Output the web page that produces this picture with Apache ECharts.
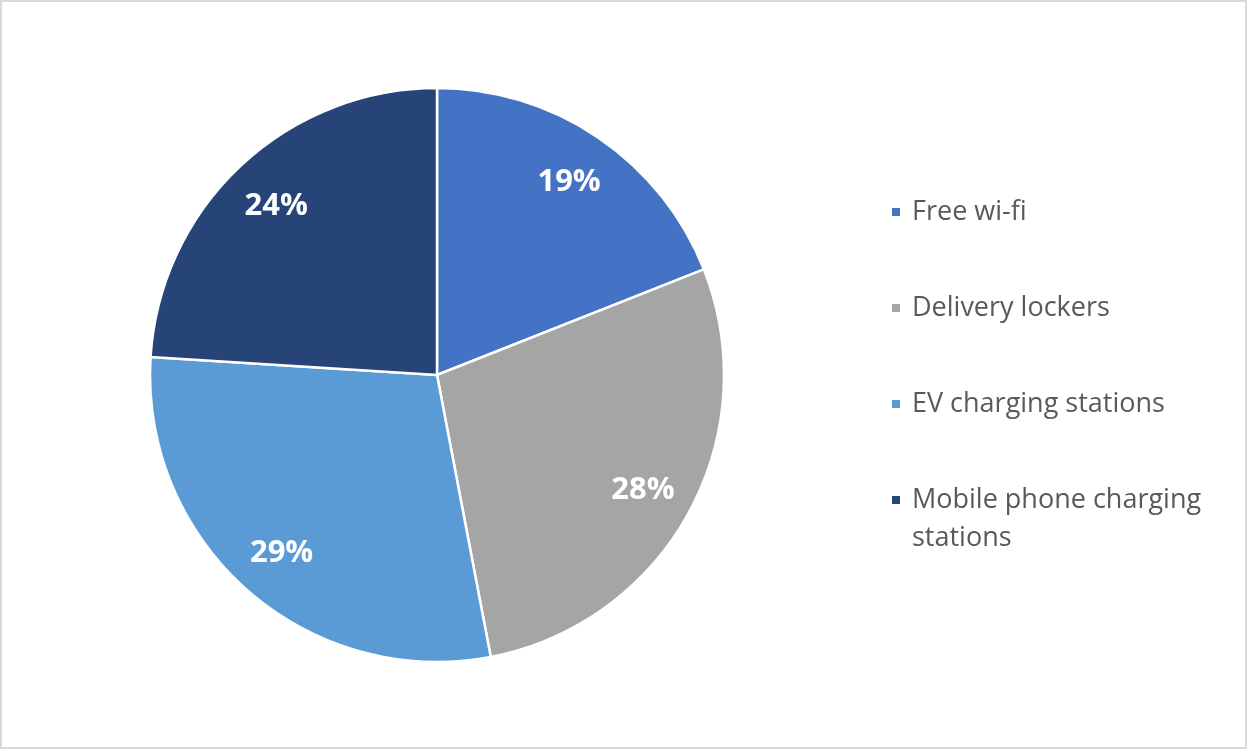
<!DOCTYPE html>
<html><head><meta charset="utf-8">
<script src="https://cdn.jsdelivr.net/npm/echarts@6/dist/echarts.min.js"></script>
<style>html,body{margin:0;padding:0;background:#fff}#c{width:1247px;height:749px;box-sizing:border-box;border:2px solid #d9d9d9}</style>
</head><body><div id="c"></div>
<script>
const categories = ['Free wi-fi', 'Delivery lockers', 'EV charging stations', 'Mobile phone charging stations'];
const values = [19, 28, 29, 24];
const colors = ['#4472C4', '#A5A5A5', '#5B9BD5', '#264478'];

const data = categories.map((n, i) => ({ name: n, value: values[i], itemStyle: { color: colors[i] } }));
const chart = echarts.init(document.getElementById('c'), null, { renderer: 'canvas' });
const legendText = { color: '#595959', fontSize: 27, fontFamily: 'Open Sans', width: 300, overflow: 'break', lineHeight: 38 };
chart.setOption({
  animation: false,
  legend: [{
    // icons only
    orient: 'vertical',
    left: 888, top: 191, padding: 0,
    itemWidth: 10, itemHeight: 10, itemGap: 58,
    icon: 'rect',
    formatter: function () { return ' '; },
    textStyle: Object.assign({}, legendText),
    data: categories
  }, {
    // texts only
    orient: 'vertical',
    left: 895, top: 191, padding: 0,
    itemWidth: 10, itemHeight: 10, itemGap: 58,
    icon: 'none',
    textStyle: Object.assign({}, legendText),
    data: categories
  }],
  series: [{
    type: 'pie', center: [435, 373], radius: [0, 287], startAngle: 90, clockwise: true,
    itemStyle: { borderColor: '#fff', borderWidth: 2.5 },
    label: { show: false }, labelLine: { show: false },
    data: data, silent: true
  }, {
    type: 'pie', center: [435, 373], radius: [177, 287], startAngle: 90, clockwise: true,
    itemStyle: { color: 'transparent', borderWidth: 0 },
    label: { show: true, position: 'inside', formatter: '{c}%', color: '#fff', fontSize: 31, fontWeight: 'bold', fontFamily: 'Open Sans', offset: [0, 2] },
    labelLine: { show: false },
    data: categories.map((n, i) => ({ name: n, value: values[i] })), silent: true, legendHoverLink: false
  }]
});
</script></body></html>
